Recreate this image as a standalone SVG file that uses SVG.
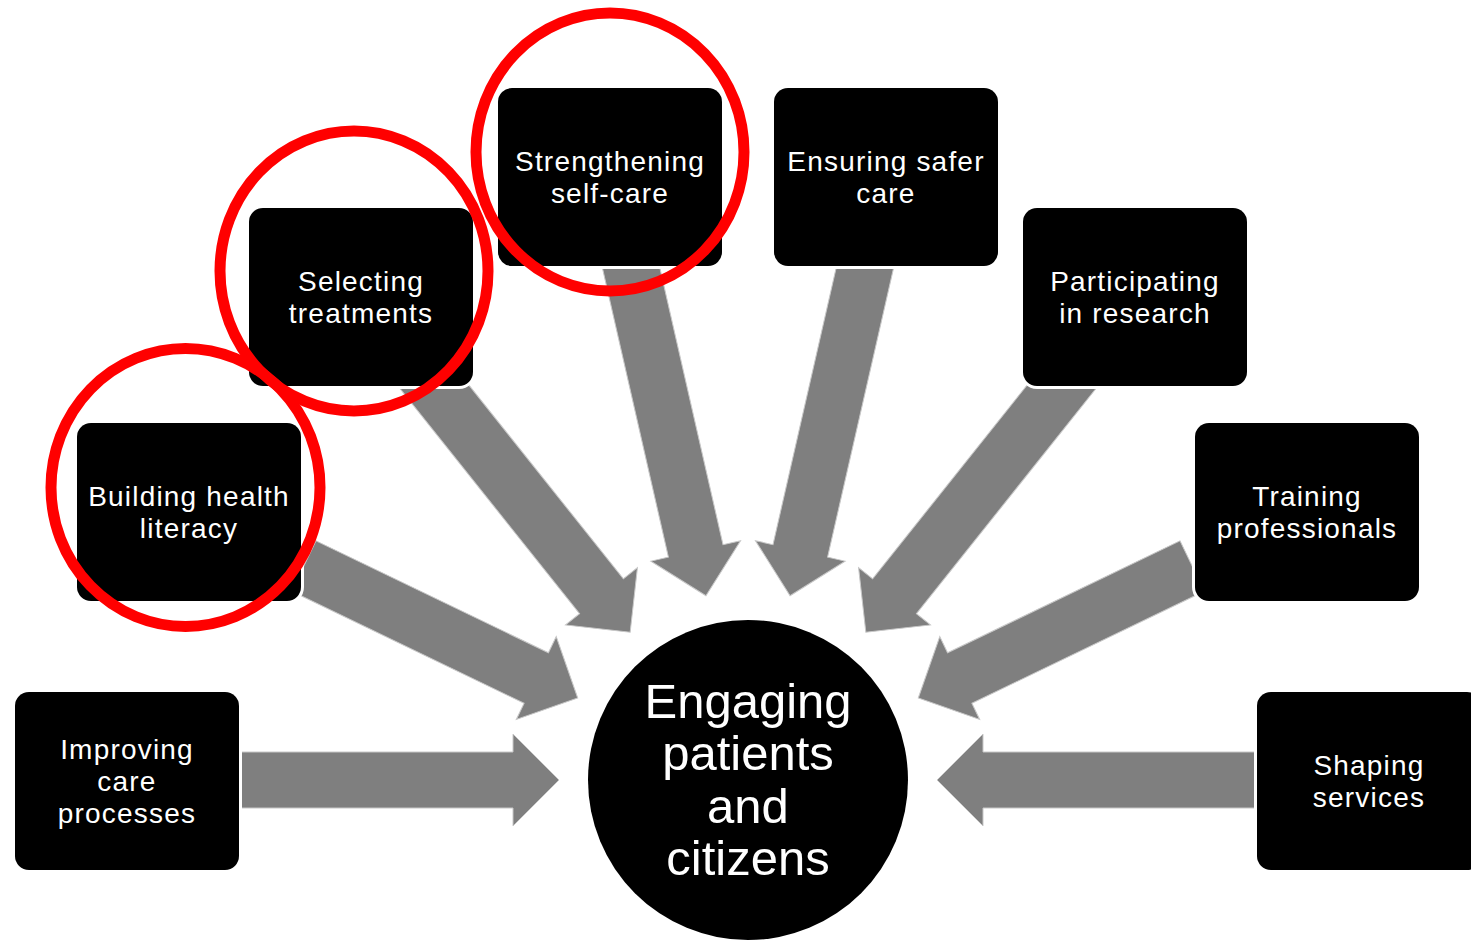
<svg xmlns="http://www.w3.org/2000/svg" width="1471" height="940" viewBox="0 0 1471 940">
  <style>
    .arrow { fill: #7f7f7f; stroke: #c8c8c8; stroke-width: 1; }
    .box { fill: #000; stroke: #fff; stroke-width: 6; paint-order: stroke; }
    .hub { fill: #000; stroke: #fff; stroke-width: 4; paint-order: stroke; }
    .label { fill: #fff; font-family: "Liberation Sans", Arial, sans-serif; font-size: 28px; letter-spacing: 1.2px; text-anchor: middle; }
    .hub-label { fill: #fff; font-family: "Liberation Sans", Arial, sans-serif; font-size: 49px; text-anchor: middle; }
    .ring { fill: none; stroke: #ff0000; stroke-width: 11; }
  </style>

  <rect width="1471" height="940" fill="#fff"/>

  <!-- block arrows, all pointing at the hub centre (748,780) -->
  <g id="connectors">
    <path class="arrow" transform="translate(748 780) rotate(0)" d="M -520,-28 H -235 V -46 L -189,0 L -235,46 V 28 H -520 Z"/>
    <path class="arrow" transform="translate(748 780) rotate(25.714)" d="M -493,-28 H -235 V -46 L -189,0 L -235,46 V 28 H -493 Z"/>
    <path class="arrow" transform="translate(748 780) rotate(51.429)" d="M -540,-28 H -235 V -46 L -189,0 L -235,46 V 28 H -540 Z"/>
    <path class="arrow" transform="translate(748 780) rotate(77.143)" d="M -560,-28 H -235 V -46 L -189,0 L -235,46 V 28 H -560 Z"/>
    <path class="arrow" transform="translate(748 780) rotate(102.857)" d="M -560,-28 H -235 V -46 L -189,0 L -235,46 V 28 H -560 Z"/>
    <path class="arrow" transform="translate(748 780) rotate(128.571)" d="M -540,-28 H -235 V -46 L -189,0 L -235,46 V 28 H -540 Z"/>
    <path class="arrow" transform="translate(748 780) rotate(154.286)" d="M -493,-28 H -235 V -46 L -189,0 L -235,46 V 28 H -493 Z"/>
    <path class="arrow" transform="translate(748 780) rotate(180)" d="M -520,-28 H -235 V -46 L -189,0 L -235,46 V 28 H -520 Z"/>
  </g>

  <g id="node-improving">
    <rect class="box" x="15" y="692" width="224" height="178" rx="14"/>
    <text class="label" x="127" y="759">Improving</text>
    <text class="label" x="127" y="791">care</text>
    <text class="label" x="127" y="823">processes</text>
  </g>

  <g id="node-literacy">
    <rect class="box" x="77" y="423" width="224" height="178" rx="14"/>
    <text class="label" x="189" y="506">Building health</text>
    <text class="label" x="189" y="538">literacy</text>
  </g>

  <g id="node-treatments">
    <rect class="box" x="249" y="208" width="224" height="178" rx="14"/>
    <text class="label" x="361" y="291">Selecting</text>
    <text class="label" x="361" y="323">treatments</text>
  </g>

  <g id="node-selfcare">
    <rect class="box" x="498" y="88" width="224" height="178" rx="14"/>
    <text class="label" x="610" y="171">Strengthening</text>
    <text class="label" x="610" y="203">self-care</text>
  </g>

  <g id="node-safety">
    <rect class="box" x="774" y="88" width="224" height="178" rx="14"/>
    <text class="label" x="886" y="171">Ensuring safer</text>
    <text class="label" x="886" y="203">care</text>
  </g>

  <g id="node-research">
    <rect class="box" x="1023" y="208" width="224" height="178" rx="14"/>
    <text class="label" x="1135" y="291">Participating</text>
    <text class="label" x="1135" y="323">in research</text>
  </g>

  <g id="node-training">
    <rect class="box" x="1195" y="423" width="224" height="178" rx="14"/>
    <text class="label" x="1307" y="506">Training</text>
    <text class="label" x="1307" y="538">professionals</text>
  </g>

  <g id="node-services">
    <rect class="box" x="1257" y="692" width="224" height="178" rx="14"/>
    <text class="label" x="1369" y="775">Shaping</text>
    <text class="label" x="1369" y="807">services</text>
  </g>

  <g id="node-hub">
    <circle class="hub" cx="748" cy="780" r="160"/>
    <text class="hub-label" x="748" y="718">Engaging</text>
    <text class="hub-label" x="748" y="770">patients</text>
    <text class="hub-label" x="748" y="823">and</text>
    <text class="hub-label" x="748" y="875">citizens</text>
  </g>

  <!-- red highlight rings -->
  <g id="highlights">
    <ellipse class="ring" cx="185.5" cy="487.5" rx="134.5" ry="139"/>
    <ellipse class="ring" cx="354" cy="271" rx="134" ry="140"/>
    <ellipse class="ring" cx="610" cy="152" rx="134" ry="139"/>
  </g>
</svg>
